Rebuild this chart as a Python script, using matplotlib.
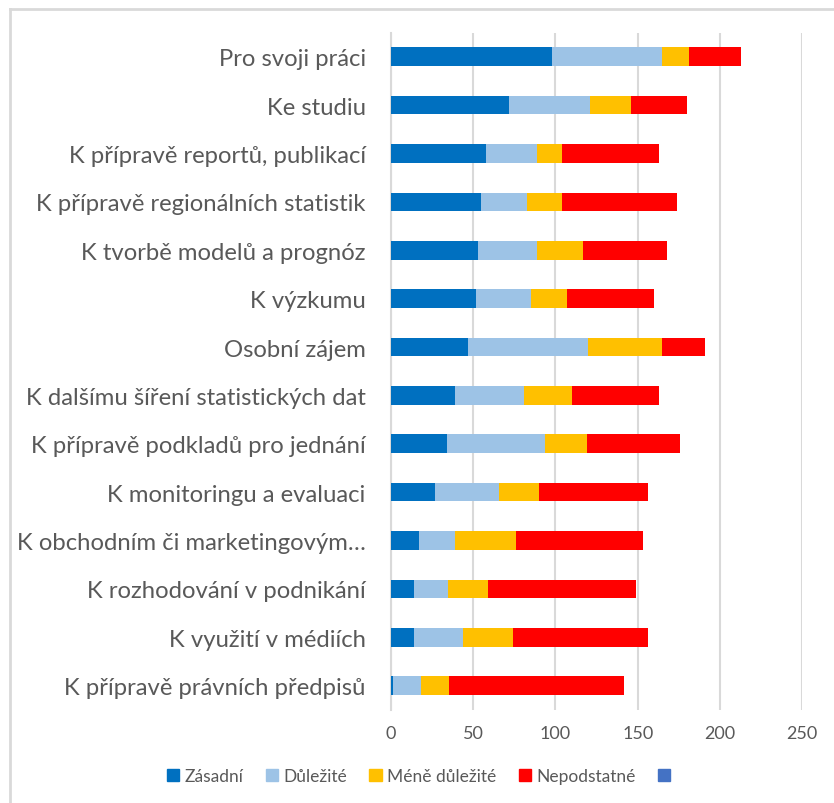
import matplotlib.pyplot as plt
from matplotlib.patches import Patch
from matplotlib.lines import Line2D
import numpy as np

plt.rcParams['font.family'] = ['Lato', 'DejaVu Sans']

# data (top to bottom as in the picture)
kategorie = ["Pro svoji práci", "Ke studiu", "K přípravě reportů, publikací",
             "K přípravě regionálních statistik", "K tvorbě modelů a prognóz",
             "K výzkumu", "Osobní zájem", "K dalšímu šíření statistických dat",
             "K přípravě podkladů pro jednání", "K monitoringu a evaluaci",
             "K obchodním či marketingovým…", "K rozhodování v podnikání",
             "K využití v médiích", "K přípravě právních předpisů"]
zasadni = [98, 72, 58, 55, 53, 52, 47, 39, 34, 27, 17, 14, 14, 1.5]
dulezite = [67, 49, 31, 28, 36, 33, 73, 42, 60, 39, 22, 21, 30, 17]
mene_dulezite = [16, 25, 15, 21, 28, 22, 45, 29, 25, 24, 37, 24, 30, 17]
nepodstatne = [32, 34, 59, 70, 51, 53, 26, 53, 57, 66, 77, 90, 82, 106]

serie = [("Zásadní", zasadni, "#0070C0"),
         ("Důležité", dulezite, "#9DC3E6"),
         ("Méně důležité", mene_dulezite, "#FFC000"),
         ("Nepodstatné", nepodstatne, "#FF0000")]

sediva = "#595959"

fig = plt.figure(figsize=(8.34, 8.04), dpi=100)
ax = fig.add_axes([0.4685, 0.1158, 0.4935, 0.8425])

y = np.arange(len(kategorie))
zacatek = np.zeros(len(kategorie))
for nazev, hodnoty, barva in serie:
    ax.barh(y, hodnoty, left=zacatek, height=0.385, color=barva, label=nazev, zorder=3)
    zacatek = zacatek + np.array(hodnoty)

ax.set_xlim(0, 250)
ax.set_ylim(len(kategorie) - 0.5, -0.5)
ax.set_xticks([0, 50, 100, 150, 200, 250])
ax.set_yticks(y)
ax.set_yticklabels(kategorie)
ax.tick_params(axis='y', length=0, pad=18, labelsize=17.2, labelcolor=sediva)
ax.tick_params(axis='x', length=0, pad=11, labelsize=13, labelcolor=sediva)
ax.grid(axis='x', color="#D9D9D9", linewidth=1.5, zorder=0)
for s in ['top', 'right', 'bottom']:
    ax.spines[s].set_visible(False)
ax.spines['left'].set_color("#D9D9D9")
ax.spines['left'].set_linewidth(1.5)

# legenda
handles = [Patch(color=b) for _, _, b in serie] + [Patch(color="#4472C4")]
labels = [n for n, _, _ in serie] + [""]
fig.legend(handles, labels, loc='center', bbox_to_anchor=(0.505, 1 - 777 / 804), ncol=5,
           frameon=False, fontsize=12.5, labelcolor=sediva, handlelength=0.7, handleheight=0.7,
           handletextpad=0.3, columnspacing=1.3)

# ramecek grafu
fig.add_artist(Line2D([10 / 834, 10 / 834], [0, 1 - 10 / 804], color="#D9D9D9", linewidth=2))
fig.add_artist(Line2D([10 / 834, 1], [1 - 10 / 804, 1 - 10 / 804], color="#D9D9D9", linewidth=2))

plt.savefig('out.png')
